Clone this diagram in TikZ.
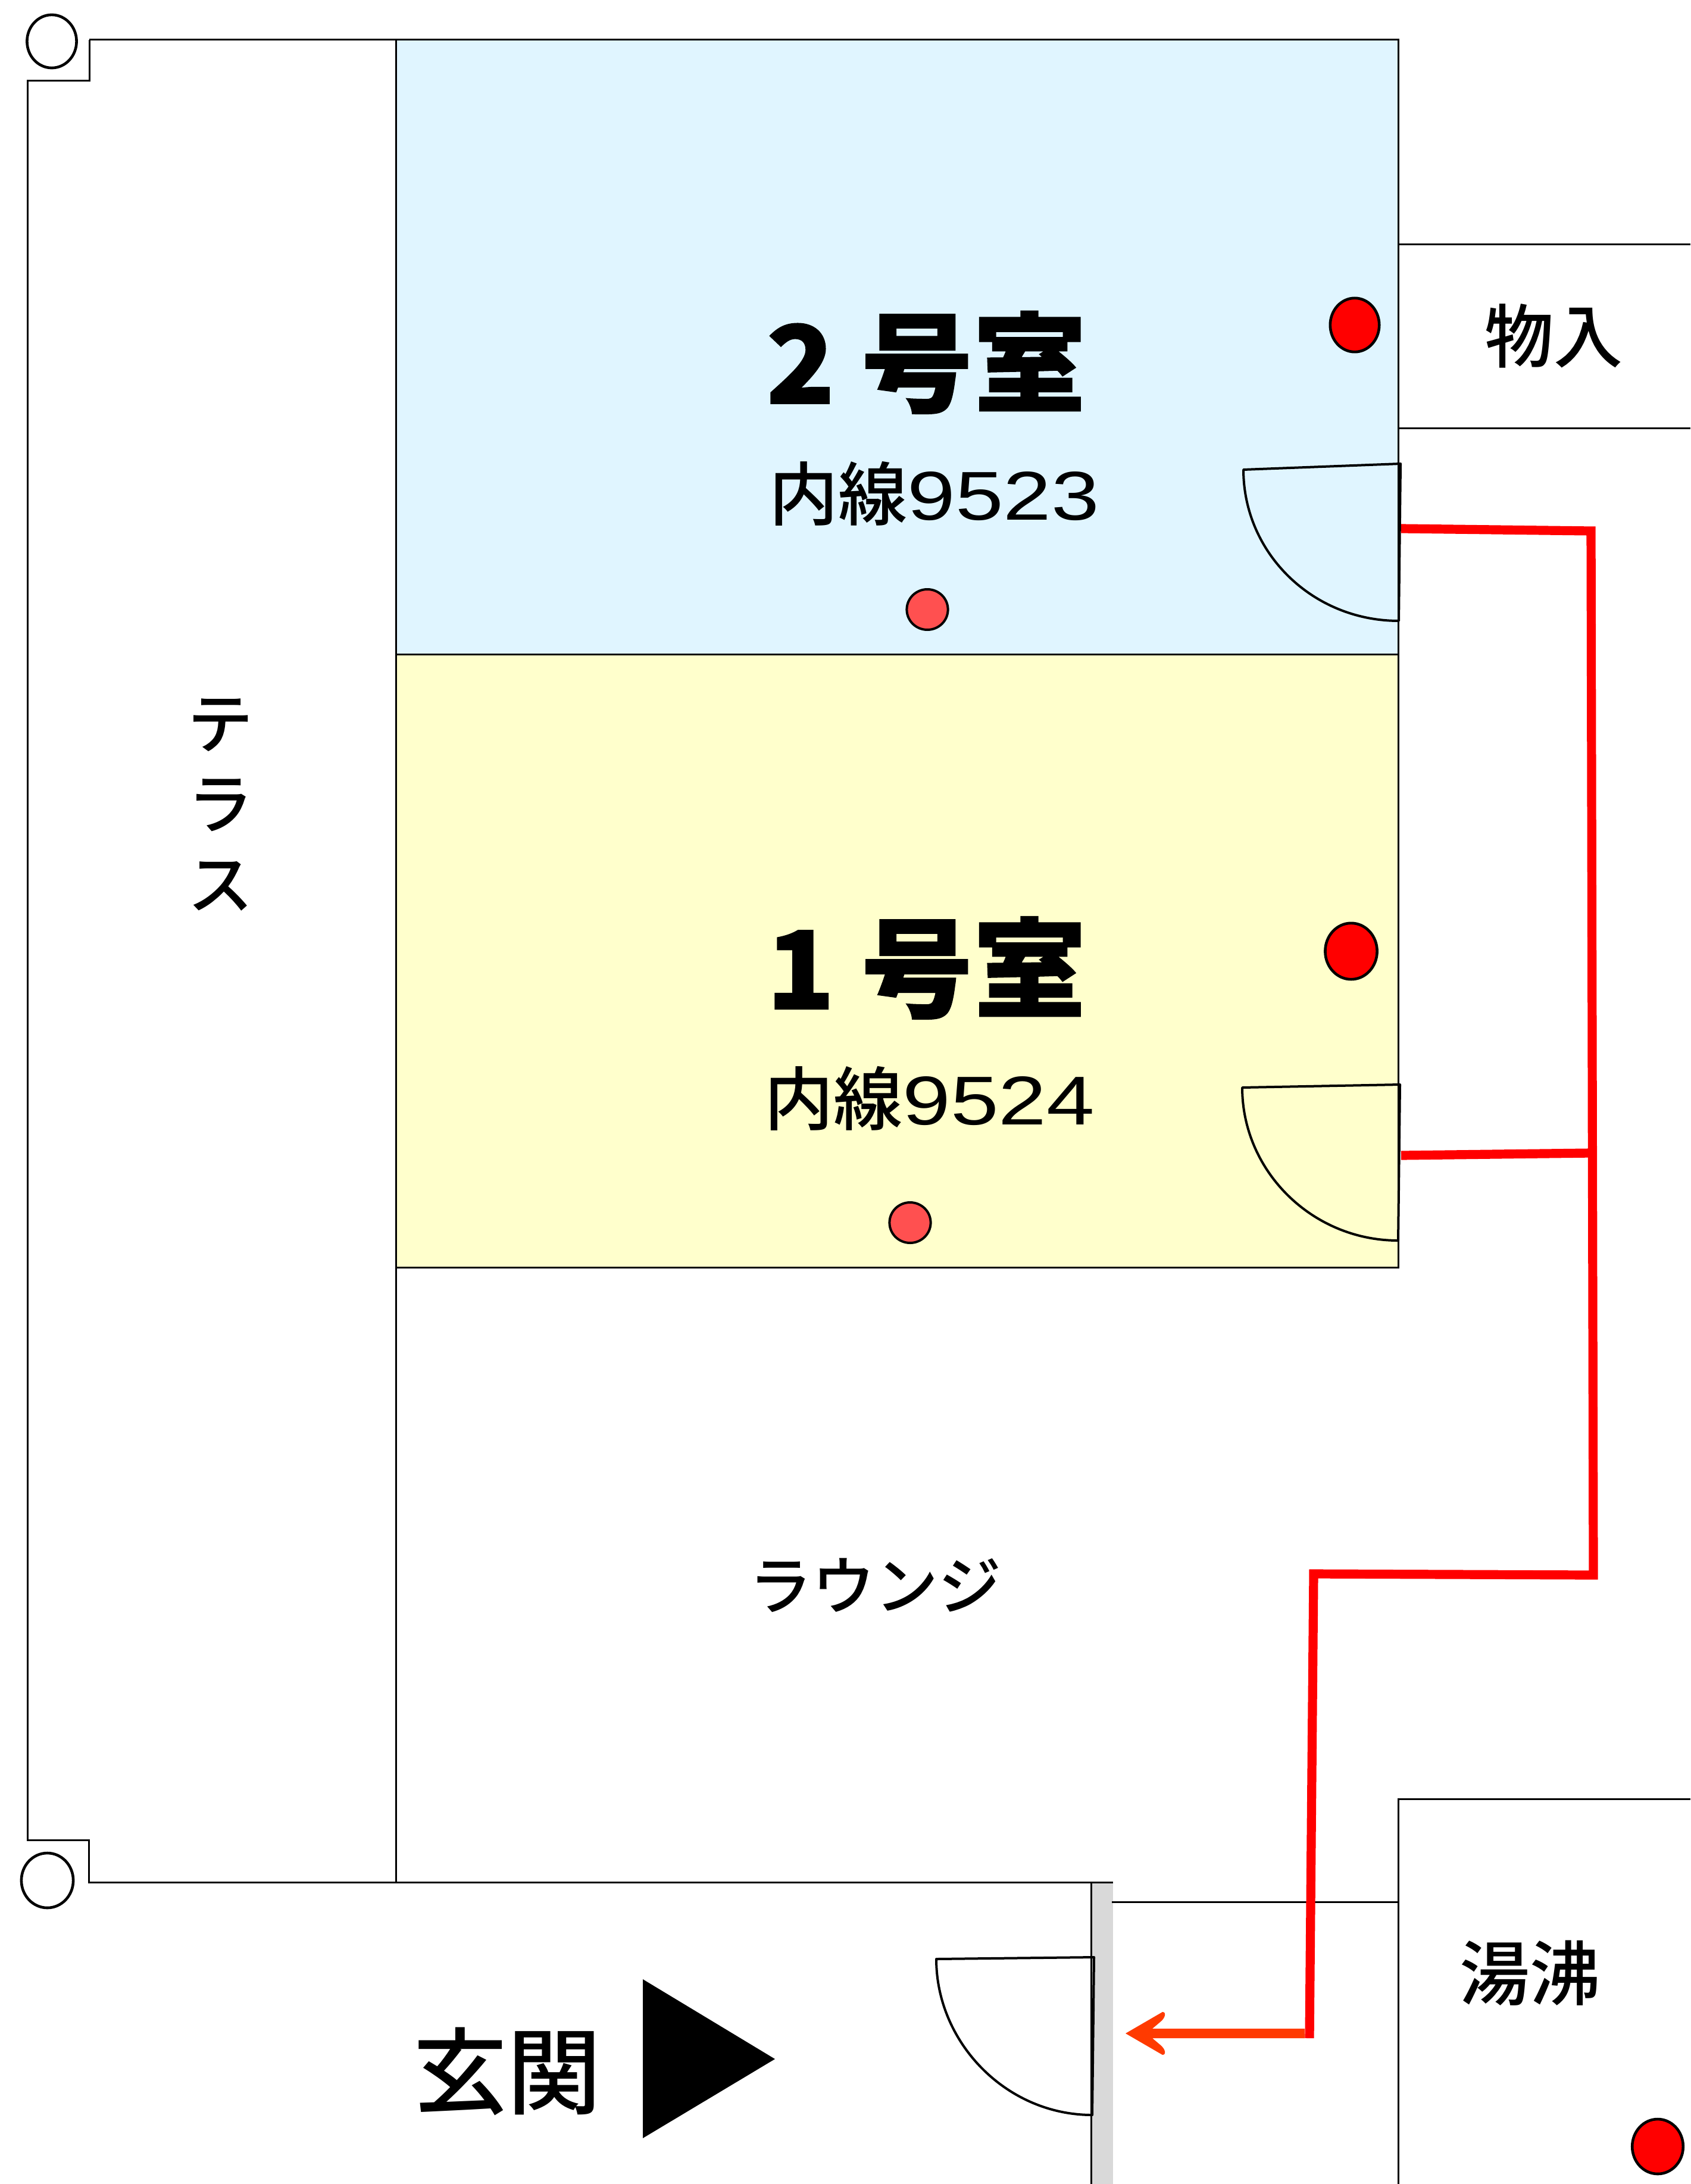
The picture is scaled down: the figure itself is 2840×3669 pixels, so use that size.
\documentclass[tikz,border=0pt]{standalone}
\usepackage{fontspec}
\setmainfont{Noto Sans CJK JP Medium}
\newfontfamily\heavyjp[FakeBold=1,FakeStretch=1.04]{Noto Sans CJK JP Black}
\newfontfamily\widelat[FakeStretch=1.25]{Liberation Sans}
\definecolor{roomblue}{HTML}{E0F5FF}
\definecolor{roomyellow}{HTML}{FFFFCC}
\definecolor{orangered}{HTML}{FF3A00}
\definecolor{sensor}{HTML}{FF5050}
\definecolor{wallgray}{HTML}{D9D9D9}
\tikzset{
  wall/.style={draw=black,line width=0.75pt,line join=miter},
  doorleaf/.style={draw=black,line width=1pt,line join=round},
  hollow/.style={draw=black,line width=1.15pt,fill=white,ellipse,minimum width=20.8pt,minimum height=22.3pt,inner sep=0pt},
  reddot/.style={draw=black,line width=1.15pt,fill=red,ellipse,minimum width=20.6pt,minimum height=22.6pt,inner sep=0pt},
  smalldot/.style={draw=black,line width=1pt,fill=sensor,ellipse,minimum width=17.3pt,minimum height=17pt,inner sep=0pt},
  route/.style={draw=red,line width=3.8pt,line join=miter},
  lbl/.style={inner sep=0pt,font=\fontsize{27.5}{33.75}\selectfont,align=center},
  big/.style={inner sep=0pt,font=\heavyjp\fontsize{45.5}{45.5}\selectfont},
  ext/.style={inner sep=0pt,font=\fontsize{29}{29}\selectfont},
}
\newcommand{\doorshape}[3]{% top-left, top-right, bottom
  \draw[doorleaf] (#1) -- (#2) -- (#3) .. controls ($(#3)+(-145,0)$) and ($(#1)+(0,140)$) .. (#1) -- cycle;
}
\usetikzlibrary{shapes.geometric,calc}
\begin{document}
\begin{tikzpicture}[x=0.25pt,y=-0.25pt]
\useasboundingbox (0,0) rectangle (2840,3669);
% rooms
\fill[roomblue] (665,67) rectangle (2349,1099);
\fill[roomyellow] (665,1099) rectangle (2349,2129);
\fill[wallgray] (1833,3162) rectangle (1870,3669);
% walls
\draw[wall] (150,67) -- (2349,67) -- (2349,2129) -- (665,2129);
\draw[wall] (665,1099) -- (2349,1099);
\draw[wall] (665,67) -- (665,3162);
\draw[wall] (150,67) -- (150,136) -- (46,136) -- (46,3091) -- (149,3091) -- (149,3162) -- (1870,3162);
\draw[wall] (2349,411) -- (2840,411);
\draw[wall] (2349,720) -- (2840,720);
\draw[wall] (1833,3162) -- (1833,3669);
\draw[wall] (1868,3195) -- (2349,3195);
\draw[wall] (2349,3669) -- (2349,3022) -- (2840,3022);
% corner posts
\node[hollow] (posttop) at (87,69.5) {};
\node[hollow,minimum width=21.8pt,minimum height=23pt] (postbottom) at (79.5,3159) {};
% doors
\coordinate (dA1) at (2089,789); \coordinate (dA2) at (2353,779); \coordinate (dA3) at (2350,1043);
\coordinate (dB1) at (2087,1827); \coordinate (dB2) at (2352,1822); \coordinate (dB3) at (2349,2084);
\coordinate (dC1) at (1573,3291); \coordinate (dC2) at (1838,3288); \coordinate (dC3) at (1835,3553);
\doorshape{dA1}{dA2}{dA3}
\doorshape{dB1}{dB2}{dB3}
\doorshape{dC1}{dC2}{dC3}
% route
\coordinate (r0) at (2354,888);
\coordinate (r1) at (2673,892);
\coordinate (r2) at (2677,2646);
\coordinate (r3) at (2207,2644);
\coordinate (r4) at (2200,3424);
\coordinate (b0) at (2354,1941);
\coordinate (b1) at (2673,1937);
\draw[route] (r0) -- (r1) -- (r2) -- (r3) -- (r4);
\draw[route] (b0) -- (b1);
\fill[orangered] (2192,3408) -- (1936,3408) -- (1949,3397) .. controls (1958,3390) and (1960,3380) .. (1953,3380) -- (1891,3416) -- (1953,3452) .. controls (1960,3452) and (1958,3442) .. (1949,3435) -- (1936,3424) -- (2192,3424) -- cycle;
% entrance triangle
\fill[black] (1080,3325) -- (1302,3459) -- (1080,3592) -- cycle;
% dots
\node[reddot] (d1) at (2276,546) {};
\node[reddot,minimum width=21.8pt,minimum height=23.6pt] (d2) at (2270,1598) {};
\node[reddot,minimum width=21.4pt,minimum height=23pt] (d3) at (2785,3606) {};
\node[smalldot] (s1) at (1558,1024) {};
\node[smalldot] (s2) at (1529,2054) {};
% labels
\node[big] (room2) at (1556,609) {2 号室};
\node[big] (room1) at (1556,1626) {1 号室};
\node[ext] (ext2) at (1570,829) {内線{\widelat 9523}};
\node[ext] (ext1) at (1562,1845) {内線{\widelat 9524}};
\node[lbl] (terrace) at (370,1352) {テ\\ラ\\ス};
\node[lbl,font=\fontsize{26.5}{26.5}\selectfont] (lounge) at (1470,2663) {ラウンジ};
\node[lbl,font=\fontsize{29}{29}\selectfont] (store) at (2610,564) {物入};
\node[lbl,font=\fontsize{29.5}{29.5}\selectfont] (water) at (2570,3315) {湯沸};
\node[inner sep=0pt,font=\fontsize{39.5}{39.5}\selectfont] (entry) at (852,3480) {玄関};
\end{tikzpicture}
\end{document}
